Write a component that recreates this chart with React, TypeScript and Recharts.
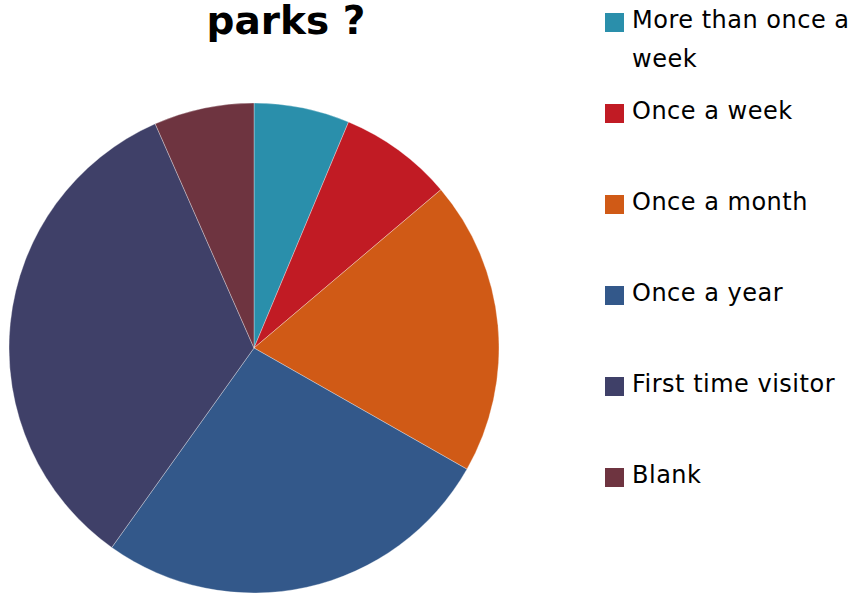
import React from 'react';
import { PieChart, Pie, Cell, Legend } from 'recharts';

const categories = ['More than once a week', 'Once a week', 'Once a month', 'Once a year', 'First time visitor', 'Blank'];
const shares = [6.3, 7.5, 19.4, 26.6, 33.5, 6.6];
const colors = ['#2A8FAB', '#C11B24', '#D05A16', '#33588A', '#3F4068', '#6E3440'];
const titleText = 'parks ?';

const data = categories.map((name, i) => ({ name, value: shares[i] }));

const FONT = '"DejaVu Sans", sans-serif';

const renderLegend = () => (
  <div style={{ fontFamily: FONT, fontSize: 24, letterSpacing: 0.5, color: '#000' }}>
    {categories.map((c, i) => (
      <div key={c} style={{ position: 'absolute', top: i * 91 + 1, left: 0, display: 'flex', alignItems: 'flex-start', width: 252 }}>
        <div style={{ width: 19, height: 19, background: colors[i], marginTop: 12, marginRight: 8, flexShrink: 0 }} />
        <div style={{ lineHeight: '39px', width: 225 }}>{c}</div>
      </div>
    ))}
  </div>
);

export default function App() {
  return (
    <div style={{ position: 'absolute', left: 0, top: 0, width: 857, height: 593, background: '#fff' }}>
      <PieChart width={857} height={593} margin={{ top: 0, right: 0, bottom: 0, left: 0 }}>
        <text x={286} y={34} textAnchor="middle" fontFamily={FONT} fontWeight="bold" fontSize={39} fill="#000">
          {titleText}
        </text>
        <Pie
          data={data}
          dataKey="value"
          nameKey="name"
          cx={254}
          cy={348}
          outerRadius={245}
          startAngle={90}
          endAngle={-270}
          stroke="#ffffff"
          strokeOpacity={0.45}
          strokeWidth={0.7}
          isAnimationActive={false}
        >
          {data.map((d, i) => (
            <Cell key={d.name} fill={colors[i]} />
          ))}
        </Pie>
        <Legend
          layout="vertical"
          verticalAlign="top"
          align="right"
          content={renderLegend}
          wrapperStyle={{ position: 'absolute', left: 605, top: 0, width: 252 }}
        />
      </PieChart>
    </div>
  );
}
